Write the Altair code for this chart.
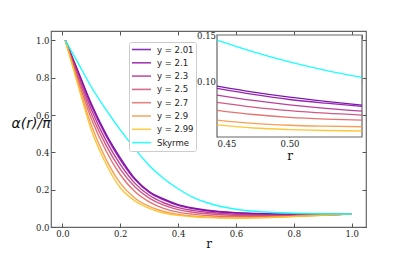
import altair as alt
import pandas as pd

# ---------------- data ----------------
r = [0.01, 0.05, 0.1, 0.15, 0.2, 0.25, 0.3, 0.35, 0.4, 0.45, 0.5, 0.6, 0.7, 0.8, 0.9, 1.0]
y201 = [1.0, 0.85, 0.66, 0.50, 0.37, 0.26, 0.19, 0.15, 0.12, 0.102, 0.09, 0.077, 0.071, 0.068, 0.068, 0.07]
y21 = [1.0, 0.845, 0.65, 0.49, 0.36, 0.255, 0.185, 0.145, 0.116, 0.099, 0.087, 0.075, 0.069, 0.067, 0.067, 0.07]
y23 = [1.0, 0.835, 0.63, 0.465, 0.335, 0.235, 0.17, 0.13, 0.104, 0.089, 0.079, 0.068, 0.064, 0.064, 0.066, 0.07]
y25 = [1.0, 0.82, 0.605, 0.44, 0.31, 0.215, 0.155, 0.117, 0.093, 0.079, 0.071, 0.062, 0.06, 0.061, 0.065, 0.07]
y27 = [1.0, 0.805, 0.58, 0.41, 0.28, 0.19, 0.135, 0.10, 0.08, 0.069, 0.062, 0.056, 0.055, 0.059, 0.064, 0.07]
y29 = [1.0, 0.79, 0.545, 0.365, 0.235, 0.155, 0.11, 0.083, 0.067, 0.059, 0.053, 0.049, 0.051, 0.057, 0.063, 0.07]
y299 = [1.0, 0.78, 0.52, 0.34, 0.21, 0.14, 0.10, 0.075, 0.062, 0.055, 0.05, 0.047, 0.05, 0.056, 0.063, 0.07]
skyrme = [1.0, 0.89, 0.75, 0.63, 0.52, 0.42, 0.33, 0.26, 0.205, 0.16, 0.13, 0.095, 0.08, 0.074, 0.071, 0.07]

r_in = [0.45, 0.475, 0.5, 0.525, 0.55]
in201 = [0.095, 0.0885, 0.083, 0.0785, 0.0745]
in21 = [0.0925, 0.086, 0.0805, 0.0765, 0.0731]
in23 = [0.0853, 0.0795, 0.0748, 0.071, 0.068]
in25 = [0.0774, 0.0723, 0.0685, 0.0657, 0.0637]
in27 = [0.0688, 0.0643, 0.0612, 0.0594, 0.0583]
in29 = [0.0583, 0.0547, 0.0527, 0.0517, 0.0511]
in299 = [0.053, 0.0497, 0.048, 0.047, 0.0465]
in_sky = [0.1446, 0.132, 0.1212, 0.112, 0.1044]

names = ["y = 2.01", "y = 2.1", "y = 2.3", "y = 2.5", "y = 2.7", "y = 2.9", "y = 2.99", "Skyrme"]
colors = ["#6a00a8", "#8f0da4", "#b12a90", "#cc4778", "#e16462", "#f89540", "#fcc225", "#00ffff"]

main_ticks = [0.0, 0.2, 0.4, 0.6, 0.8, 1.0]
in_xticks = [0.45, 0.50]
in_yticks = [0.10, 0.15]
in_ylabel_grid = [0.06, 0.10, 0.13, 0.15]  # only 0.10 and 0.15 are drawn visibly

# ---------------- build tables ----------------
main_series = [y201, y21, y23, y25, y27, y29, y299, skyrme]
in_series = [in201, in21, in23, in25, in27, in29, in299, in_sky]
rows = []
for i, (n, vals) in enumerate(zip(names, main_series)):
    for ri, v in zip(r, vals):
        rows.append({"r": ri, "v": v, "s": n, "o": i})
df_main = pd.DataFrame(rows)
rows = []
for i, (n, vals) in enumerate(zip(names, in_series)):
    for ri, v in zip(r_in, vals):
        rows.append({"r": ri, "v": v, "s": n, "o": i})
df_in = pd.DataFrame(rows)

W, H = 315, 196
TK = 4
IN_L, IN_R = 166, 311
IN_B, IN_T = 106, 4

sx_main = alt.Scale(domain=[-0.0395, 1.0495], nice=False, zero=False)
sy_main = alt.Scale(domain=[0, 1.05], nice=False, zero=False)
sx_in = alt.Scale(domain=[0.45, 0.55], nice=False, zero=False, range=[IN_L, IN_R])
sy_in = alt.Scale(domain=[0.04, 0.1502], nice=False, zero=False, range=[IN_B, IN_T])

color = alt.Color(
    "s:N",
    scale=alt.Scale(domain=names, range=colors),
    legend=alt.Legend(
        title=None, orient="none", legendX=78, legendY=11,
        symbolType="stroke", symbolSize=361, symbolStrokeWidth=1.6, symbolOpacity=0.8,
        clipHeight=11, rowPadding=2.3, labelOffset=5, padding=2,
        labelFont="DejaVu Sans", labelFontSize=8.5, labelColor="#222",
        fillColor="white", strokeColor="#cccccc", cornerRadius=2,
    ),
)

main = alt.Chart(df_main).mark_line(strokeWidth=1.4, opacity=0.9, interpolate="monotone").encode(
    x=alt.X("r:Q", scale=sx_main, axis=alt.Axis(
        orient="bottom", values=main_ticks, format=".1f", offset=-TK, tickSize=TK,
        domain=False, grid=False, labelPadding=2, title="r",
        titleFont="DejaVu Serif", titleFontSize=12, titleFontWeight="normal", titleColor="#111",
        titleX=W / 2, titleY=20, titleBaseline="middle")),
    y=alt.Y("v:Q", scale=sy_main, axis=alt.Axis(
        orient="left", values=main_ticks, format=".1f", offset=-TK, tickSize=TK,
        domain=False, grid=False, labelPadding=2, title="α(r)/π",
        titleAngle=0, titleX=-44, titleY=96, titleAlign="left", titleBaseline="alphabetic",
        titleFont="DejaVu Sans", titleFontStyle="italic", titleFontSize=14,
        titleFontWeight="normal", titleColor="#111")),
    color=color,
    order="o:Q",
)

main_ticks_layer = alt.Chart(df_main).mark_line(opacity=0).encode(
    x=alt.X("r:Q", scale=sx_main, axis=alt.Axis(
        orient="top", values=main_ticks, labels=False, offset=-TK, tickSize=TK,
        domain=False, grid=False, title=None)),
    y=alt.Y("v:Q", scale=sy_main, axis=alt.Axis(
        orient="right", values=main_ticks, labels=False, offset=-TK, tickSize=TK,
        domain=False, grid=False, title=None)),
    detail="s:N",
)

frame = alt.Chart(alt.Data(values=[{}])).mark_rect(
    fill="white", stroke="#666666", strokeWidth=1.2
).encode(
    x=alt.XDatum(0.45, scale=sx_in, axis=None),
    x2=alt.X2Datum(0.55),
    y=alt.YDatum(0.04, scale=sy_in, axis=None),
    y2=alt.Y2Datum(0.1502),
)

keep = "datum.value > 0.14 || (datum.value > 0.09 && datum.value < 0.11)"

inset = alt.Chart(df_in).mark_line(strokeWidth=1.3, opacity=0.9, interpolate="monotone").encode(
    x=alt.X("r:Q", scale=sx_in, axis=alt.Axis(
        orient="bottom", values=in_xticks, format=".2f", offset=(IN_B - H) - TK, tickSize=TK,
        domain=False, grid=False, labelPadding=2, labelOverlap=False, title="r",
        titleFont="DejaVu Serif", titleFontSize=12, titleFontWeight="normal", titleColor="#111",
        titleX=(IN_L + IN_R) / 2, titleY=22, titleBaseline="middle")),
    y=alt.Y("v:Q", scale=sy_in, axis=alt.Axis(
        orient="left", values=in_ylabel_grid, format=".2f", offset=-IN_L - TK, tickSize=TK,
        domain=False, grid=False, labelPadding=1.5, labelOverlap=False, labelBound=False,
        labelColor={"condition": {"test": keep, "value": "#222222"}, "value": "#ffffff"},
        tickColor={"condition": {"test": keep, "value": "#555555"}, "value": "#ffffff"},
        title=None)),
    color=color,
    order="o:Q",
)

inset_ticks = alt.Chart(df_in).mark_line(opacity=0).encode(
    x=alt.X("r:Q", scale=sx_in, axis=alt.Axis(
        orient="top", values=[0.45, 0.50, 0.55], labels=False, offset=-IN_T - TK, tickSize=TK,
        domain=False, grid=False, title=None)),
    y=alt.Y("v:Q", scale=sy_in, axis=alt.Axis(
        orient="right", values=in_yticks, labels=False, offset=(IN_R - W) - TK, tickSize=TK,
        domain=False, grid=False, title=None)),
    detail="s:N",
)

chart = alt.layer(main, main_ticks_layer, frame, inset, inset_ticks).resolve_scale(
    x="independent", y="independent", color="shared"
).resolve_axis(
    x="independent", y="independent"
).properties(
    width=W, height=H,
    autosize=alt.AutoSizeParams(type="none"),
    padding={"left": 43, "top": 23, "right": 33, "bottom": 24},
).configure_view(
    stroke="#666666", strokeWidth=1.2
).configure_axis(
    labelFont="DejaVu Serif", labelFontSize=8.5, labelColor="#222",
    tickColor="#555555", tickWidth=1,
)

chart.save("out.html", embed_options={"renderer": "svg", "actions": False})
